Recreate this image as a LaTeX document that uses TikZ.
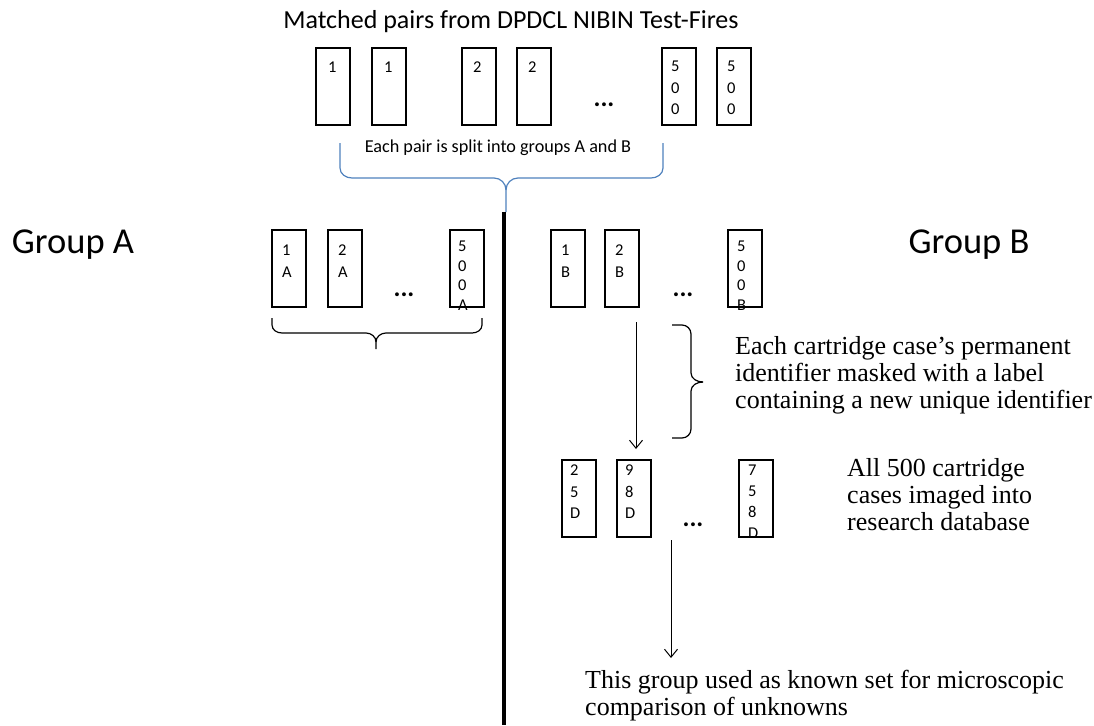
\documentclass[tikz,border=0pt]{standalone}
\usepackage{fontspec}
\usetikzlibrary{arrows.meta}
\setmainfont{Carlito}
\newfontfamily\serifx{Liberation Serif}
\begin{document}
\begin{tikzpicture}[x=1pt,y=-1pt,
  card/.style={draw, line width=2.1pt, minimum width=34pt, minimum height=77pt, inner sep=0pt, anchor=north west},
  cardtxt/.style={font=\fontsize{16.5}{21.5}\selectfont, align=left, anchor=north west, inner sep=0pt},
  dots/.style={font=\fontsize{26}{26}\selectfont\bfseries, inner sep=0pt},
  serifnote/.style={font=\serifx\fontsize{26}{27.3}\selectfont, align=left, anchor=north west, inner sep=0pt},
  arr/.style={-{Straight Barb[length=8pt,width=13pt]}, line width=1pt},
  brace/.style={line width=1.2pt}
]
\useasboundingbox (0,0) rectangle (1094,725);
% title
\node[font=\fontsize{26}{28}\selectfont, inner sep=0pt] (title) at (511,22) {Matched pairs from DPDCL NIBIN Test-Fires};
% top cards
\node[card] (t1) at (315,47) {};
\node[card] (t2) at (371,47) {};
\node[card] (t3) at (461,47) {};
\node[card] (t4) at (516,47) {};
\node[card] (t5) at (661,47) {};
\node[card] (t6) at (716,47) {};
\node[cardtxt] (t1l) at (328,62) {1};
\node[cardtxt] (t2l) at (384,62) {1};
\node[cardtxt] (t3l) at (473,62) {2};
\node[cardtxt] (t4l) at (528,62) {2};
\node[cardtxt] (t5l) at (671,61) {5\\0\\0};
\node[cardtxt] (t6l) at (727,61) {5\\0\\0};
\node[dots] (tdots) at (604,105) {...};
\node[font=\fontsize{18.2}{20}\selectfont, inner sep=0pt] (split) at (498,148) {Each pair is split into groups A and B};
% blue brace
\draw[brace, draw={rgb,255:red,79;green,129;blue,189}] (340,143) -- (340,168) to[out=-90,in=180] (352,178) -- (494,178) to[out=0,in=90] (506,190) -- (506,212);
\draw[brace, draw={rgb,255:red,79;green,129;blue,189}] (506,190) to[out=90,in=180] (518,178) -- (651,178) to[out=0,in=-90] (663,168) -- (663,143);
% divider
\coordinate (divtop) at (504,212);
\coordinate (divbot) at (504,725);
\draw[line width=4pt] (divtop) -- (divbot);
% group labels
\node[font=\fontsize{36.5}{38}\selectfont, inner sep=0pt] (ga) at (73,245) {Group A};
\node[font=\fontsize{36.5}{38}\selectfont, inner sep=0pt] (gb) at (969,245) {Group B};
% group A cards
\node[card] (a1) at (271,229) {};
\node[card] (a2) at (327,229) {};
\node[card] (a3) at (449,229) {};
\node[cardtxt] (a1l) at (282,245) {1\\A};
\node[cardtxt] (a2l) at (338,245) {2\\A};
\node[cardtxt, font=\fontsize{16.5}{19.5}\selectfont] (a3l) at (458,241) {5\\0\\0\\A};
\node[dots] (adots) at (404,295) {...};
\draw[brace] (272,318) -- (272,325) to[out=-90,in=180] (282,333) -- (366,333) to[out=0,in=90] (376,342) -- (376,349);
\draw[brace] (376,342) to[out=90,in=180] (386,333) -- (472,333) to[out=0,in=-90] (482,325) -- (482,318);
% group B cards
\node[card] (b1) at (550,229) {};
\node[card] (b2) at (604,229) {};
\node[card] (b3) at (727,229) {};
\node[cardtxt] (b1l) at (561,245) {1\\B};
\node[cardtxt] (b2l) at (615,245) {2\\B};
\node[cardtxt, font=\fontsize{16.5}{19.5}\selectfont] (b3l) at (737,241) {5\\0\\0\\B};
\node[dots] (bdots) at (683,295) {...};
% arrow 1
\coordinate (ar1s) at (636,322);
\node[card] (d1) at (561,459) {};
\node[card] (d2) at (616,459) {};
\node[card] (d3) at (738,459) {};
\draw[arr] (ar1s) -- (636,449);
\node[cardtxt] (d1l) at (570,465) {2\\5\\D};
\node[cardtxt] (d2l) at (625,465) {9\\8\\D};
\node[cardtxt, font=\fontsize{16.5}{21}\selectfont] (d3l) at (748,465) {7\\5\\8\\D};
\node[dots] (ddots) at (693,525) {...};
% right brace
\draw[brace] (672,325) -- (682,325) to[out=0,in=90] (691,334) -- (691,373) to[out=-90,in=180] (703,382);
\draw[brace] (703,382) to[out=180,in=90] (691,391) -- (691,429) to[out=-90,in=0] (682,438) -- (672,438);
\node[serifnote] (mask) at (735,336) {Each cartridge case’s permanent\\identifier masked with a label\\containing a new unique identifier};
\node[serifnote] (imaged) at (847,458) {All 500 cartridge\\cases imaged into\\research database};
% arrow 2
\coordinate (ar2s) at (671,540);
\coordinate (ar2e) at (671,658);
\draw[arr] (ar2s) -- (ar2e);
\node[serifnote] (known) at (585,670) {This group used as known set for microscopic\\comparison of unknowns};
\end{tikzpicture}
\end{document}
